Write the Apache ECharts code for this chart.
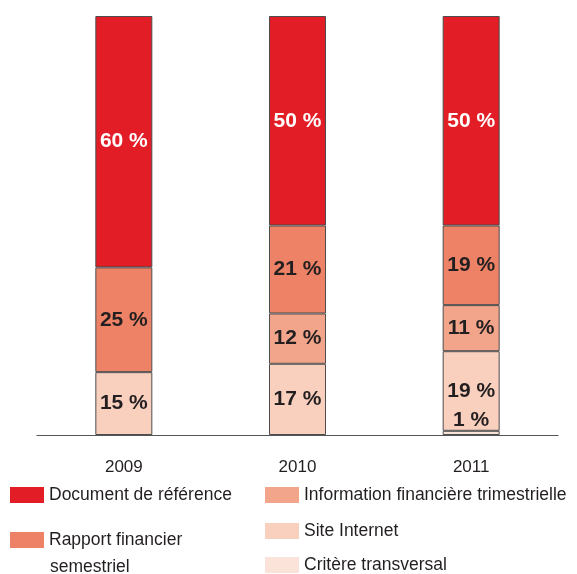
<!DOCTYPE html>
<html>
<head>
<meta charset="utf-8">
<script src="https://cdn.jsdelivr.net/npm/echarts@6/dist/echarts.min.js"></script>
<style>
  html, body { margin: 0; padding: 0; background: #fff; }
  #chart { width: 577px; height: 574px; }
</style>
</head>
<body>
<div id="chart"></div>
<script>
// Années
const categories = ['2009', '2010', '2011'];
// Répartition des critères (%), du bas vers le haut de chaque barre
const critereTransversal = ['-', '-', 1];
const siteInternet = [15, 17, 19];
const infoTrimestrielle = ['-', 12, 11];
const rapportSemestriel = [25, 21, 19];
const documentReference = [60, 50, 50];

const names = {
  doc: 'Document de référence',
  sem: 'Rapport financier semestriel',
  tri: 'Information financière trimestrielle',
  site: 'Site Internet',
  crit: 'Critère transversal'
};
const colors = {
  doc: '#e31d25',
  sem: '#ee8266',
  tri: '#f3a58b',
  site: '#f9cfbe',
  crit: '#fce3d9'
};

const sans = '"Liberation Sans", Arial, Helvetica, sans-serif';
const textColor = '#231f20';

function barSeries(key, data, labelColor, extraLabel) {
  return {
    name: names[key],
    type: 'bar',
    stack: 'total',
    barWidth: 57,
    data: data,
    itemStyle: { color: colors[key], borderColor: '#4d4d4d', borderWidth: 1 },
    label: Object.assign({
      show: true,
      position: 'inside',
      formatter: '{c} %',
      color: labelColor,
      fontFamily: sans,
      fontWeight: 'bold',
      fontSize: 21
    }, extraLabel || {}),
    emphasis: { disabled: true }
  };
}

function legendItem(key, left, top, text) {
  return {
    data: [names[key]],
    left: left,
    top: top,
    padding: 0,
    icon: 'rect',
    itemWidth: 34,
    itemHeight: 16,
    selectedMode: false,
    formatter: text ? function () { return text; } : undefined,
    itemStyle: { borderWidth: 0 },
    textStyle: { fontFamily: sans, fontSize: 17.5, color: textColor }
  };
}

const chart = echarts.init(document.getElementById('chart'), null, { renderer: 'canvas' });
chart.setOption({
  animation: false,
  backgroundColor: '#ffffff',
  grid: { left: 37, right: 19, top: 16, bottom: 139, containLabel: false },
  xAxis: {
    type: 'category',
    data: categories,
    axisLine: { show: true, lineStyle: { color: '#555555', width: 1.2 } },
    axisTick: { show: false },
    axisLabel: { color: textColor, fontFamily: sans, fontSize: 17, margin: 24 }
  },
  yAxis: {
    type: 'value',
    min: 0,
    max: 100,
    show: false,
    splitLine: { show: false }
  },
  legend: [
    legendItem('doc', 10, 486),
    legendItem('tri', 265, 486),
    legendItem('sem', 10, 531, 'Rapport financier'),
    legendItem('site', 265, 522),
    legendItem('crit', 265, 556)
  ],
  graphic: [
    {
      type: 'text',
      left: 50,
      top: 558,
      style: { text: 'semestriel', fontFamily: sans, fontSize: 17.5, fill: textColor }
    }
  ],
  series: [
    barSeries('crit', critereTransversal, textColor, { position: 'top', distance: 0 }),
    barSeries('site', siteInternet, textColor),
    barSeries('tri', infoTrimestrielle, textColor),
    barSeries('sem', rapportSemestriel, textColor),
    barSeries('doc', documentReference, '#ffffff')
  ]
});
</script>
</body>
</html>
